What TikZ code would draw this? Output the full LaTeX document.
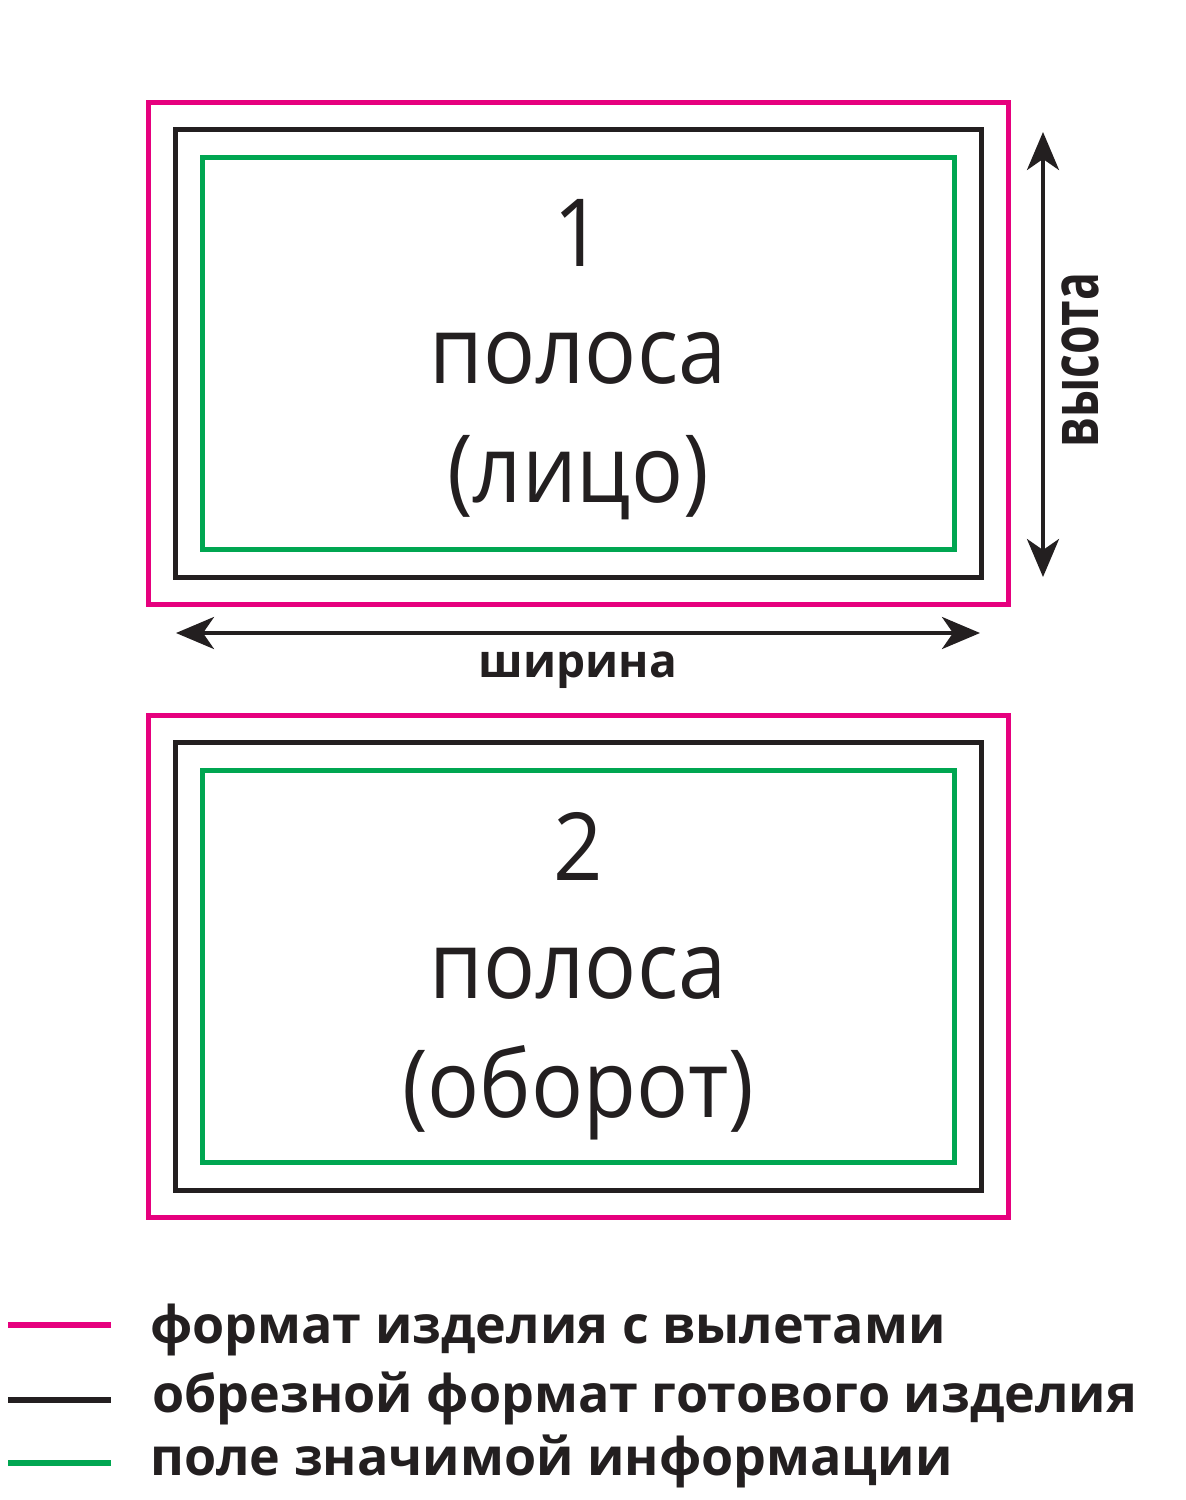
\documentclass[tikz,border=0pt]{standalone}
\usepackage{fontspec}
\setmainfont{Open Sans}
\newfontfamily\bigfont{Open Sans}[FakeStretch=0.92]
\usetikzlibrary{arrows.meta}
\definecolor{bleedpink}{HTML}{E6007E}
\definecolor{trimblack}{HTML}{231F20}
\definecolor{safegreen}{HTML}{00A651}

\begin{document}
\begin{tikzpicture}[x=1pt, y={(0pt,-1pt)},
	bleed/.style={shape=rectangle, draw=bleedpink, line width=5pt, minimum width=860pt, minimum height=502pt},
	trim/.style={shape=rectangle, draw=trimblack, line width=5pt, minimum width=806pt, minimum height=448pt},
	safe/.style={shape=rectangle, draw=safegreen, line width=5pt, minimum width=752pt, minimum height=392pt},
	bigtext/.style={anchor=base, inner sep=0pt, text=trimblack, font=\bigfont\fontsize{94}{110}\selectfont},
	boldtext/.style={anchor=base, inner sep=0pt, text=trimblack, font=\fontsize{46}{56}\selectfont\bfseries},
	legendtext/.style={anchor=base west, inner sep=0pt, text=trimblack, font=\fontsize{52}{60}\selectfont\bfseries},
	dimarrow/.style={draw=trimblack, line width=4pt, {Stealth[length=38pt,width=32pt,inset=11pt]}-{Stealth[length=38pt,width=32pt,inset=11pt]}},
	legendline/.style={line width=6pt}]

	\useasboundingbox (0,0) rectangle (1186,1500);

	% first page
	\node[bleed] (p1) at (578.5, 353.5) {};
	\node[trim]  (b1) at (578.5, 353.5) {};
	\node[safe]  (g1) at (578.5, 353.5) {};

	\node[bigtext] (n1) at (578, 266) {1};
	\node[bigtext] (t1) at (578, 383) {полоса};
	\node[bigtext] (s1) at (578, 502) {(лицо)};

	% dimensions
	\coordinate (htop) at (1043, 132);
	\coordinate (hbot) at (1043, 577);
	\coordinate (wlft) at (176, 633);
	\coordinate (wrgt) at (980, 633);

	\path[dimarrow] (htop) -- (hbot);
	\path[dimarrow] (wlft) -- (wrgt);

	\node[boldtext, rotate=90, font=\fontsize{66}{72}\selectfont\bfseries] (hl) at (1098, 360) {\scalebox{0.7}[1]{высота}};
	\node[boldtext] (wl) at (578, 677) {ширина};

	% second page
	\node[bleed] (p2) at (578.5, 966) {};
	\node[trim]  (b2) at (578.5, 966) {};
	\node[safe]  (g2) at (578.5, 966) {};

	\node[bigtext] (n2) at (578, 880) {2};
	\node[bigtext] (t2) at (578, 998) {полоса};
	\node[bigtext] (s2) at (578, 1117) {(оборот)};

	% legend
	\coordinate (l1a) at (8, 1325);   \coordinate (l1b) at (111, 1325);
	\coordinate (l2a) at (8, 1400);   \coordinate (l2b) at (111, 1400);
	\coordinate (l3a) at (8, 1463);   \coordinate (l3b) at (111, 1463);

	\path[legendline, draw=bleedpink]  (l1a) -- (l1b);
	\path[legendline, draw=trimblack]  (l2a) -- (l2b);
	\path[legendline, draw=safegreen]  (l3a) -- (l3b);

	\node[legendtext] (e1) at (150, 1343) {формат изделия с вылетами};
	\node[legendtext] (e2) at (152, 1412) {обрезной формат готового изделия};
	\node[legendtext] (e3) at (150, 1475) {поле значимой информации};

\end{tikzpicture}
\end{document}
